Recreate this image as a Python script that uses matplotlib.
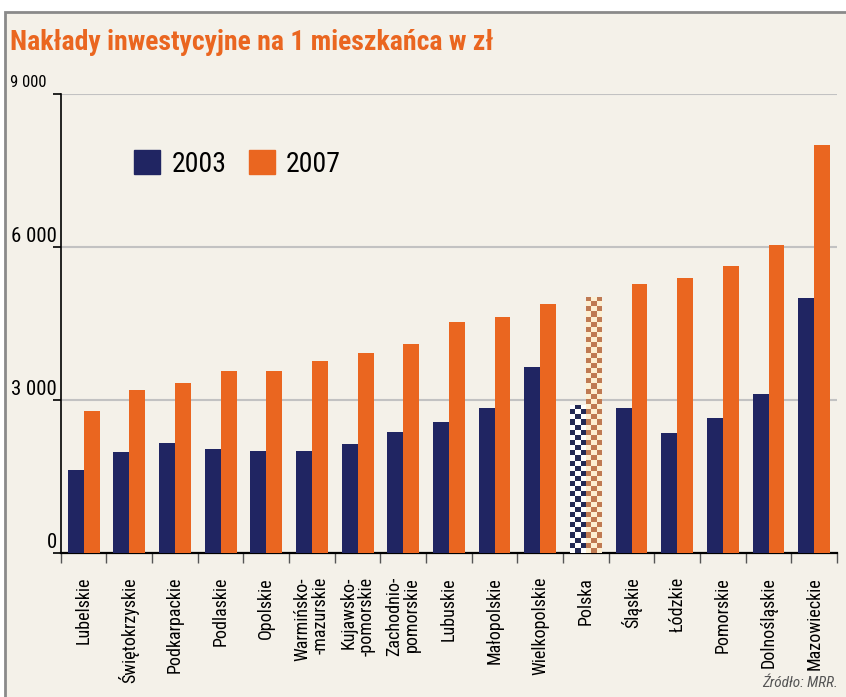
import numpy as np
import matplotlib
matplotlib.use('Agg')
import matplotlib.pyplot as plt
from matplotlib import font_manager
from matplotlib.colors import ListedColormap
from matplotlib.patches import Rectangle, Patch

# --- dane ---
regions = ['Lubelskie', 'Świętokrzyskie', 'Podkarpackie', 'Podlaskie', 'Opolskie',
           'Warmińsko-\n-mazurskie', 'Kujawsko-\n-pomorskie', 'Zachodnio-\npomorskie',
           'Lubuskie', 'Małopolskie', 'Wielkopolskie', 'Polska', 'Śląskie', 'Łódzkie',
           'Pomorskie', 'Dolnośląskie', 'Mazowieckie']
v2003 = [1630, 1985, 2160, 2045, 2005, 2005, 2140, 2380, 2575, 2850, 3655,
         2910, 2850, 2360, 2655, 3125, 5005]
v2007 = [2790, 3200, 3340, 3575, 3575, 3770, 3925, 4105, 4535, 4635, 4890,
         5025, 5280, 5400, 5635, 6045, 8005]
years = ['2003', '2007']
yticks = [0, 3000, 6000, 9000]
ytick_labels = ['0', '3 000', '6 000', '9 000']
highlight = 'Polska'

COLORS = {
    'bg': '#F4F1E9',
    'navy': '#202562',
    'orange': '#EA6620',
    'grid': '#C2C2C2',
    'border': '#8A8A8A',
    'chk_navy': ['#FFFFFF', '#232A55'],
    'chk_orange': ['#FDEFD2', '#BF7A53'],
}

# szukamy waskiej czcionki
names = {f.name for f in font_manager.fontManager.ttflist}
FONT = next((n for n in ['Roboto Condensed', 'Liberation Sans Narrow', 'Open Sans Condensed',
                         'Noto Sans Condensed', 'DejaVu Sans Condensed'] if n in names), 'DejaVu Sans')
plt.rcParams['font.family'] = [FONT, 'DejaVu Sans']
plt.rcParams['font.stretch'] = 'condensed'

W, H = 846, 697
fig = plt.figure(figsize=(W / 100, H / 100), dpi=100)
fig.patch.set_facecolor('white')
fig.patches.append(Rectangle((5 / W, -0.02), 1.02, 1 - 12 / H + 0.02, transform=fig.transFigure,
                             facecolor=COLORS['bg'], edgecolor=COLORS['border'], linewidth=2, zorder=-5))

left, right, bottom, top = 60.7 / W, 837 / W, 1 - 553.3 / H, 1 - 94.3 / H
ax = fig.add_axes([left, bottom, right - left, top - bottom])
ax.set_facecolor('none')

x = np.arange(len(regions))
bw = 0.35
b1 = ax.bar(x - bw / 2, v2003, width=bw, color=COLORS['navy'], zorder=3)
b2 = ax.bar(x + bw / 2, v2007, width=bw, color=COLORS['orange'], zorder=3)

# Polska - szachownica
hi = regions.index(highlight)
for bar, cols in [(b1[hi], COLORS['chk_navy']), (b2[hi], COLORS['chk_orange'])]:
    bar.set_facecolor('none')
    x0, w, h = bar.get_x(), bar.get_width(), bar.get_height()
    ny = int(round(h / 100))
    nx = 3
    grid = (np.add.outer(np.arange(ny), np.arange(nx)) % 2)
    im = ax.imshow(grid, extent=(x0, x0 + w, 0, h), cmap=ListedColormap(cols),
                   aspect='auto', interpolation='nearest', zorder=3, origin='lower')
    im.set_clip_path(bar)

ax.set_xlim(-0.5, len(regions) - 0.5)
ax.set_ylim(0, 9000)

for s in ['top', 'right']:
    ax.spines[s].set_visible(False)
ax.spines['left'].set_linewidth(1.2)
ax.spines['bottom'].set_linewidth(1.6)

ax.set_yticks(yticks)
ax.set_yticklabels([])
ax.tick_params(axis='y', length=6, width=1.2, direction='out')
ax.yaxis.grid(True, color=COLORS['grid'], linewidth=1.5, zorder=0)
ax.set_axisbelow(True)
for v, lab in zip(yticks, ytick_labels):
    if v == 9000:
        fig.text(10 / W, 1 - 90 / H, lab, ha='left', va='bottom', fontsize=12)
    else:
        ax.annotate(lab, xy=(0, v), xycoords=('axes fraction', 'data'), xytext=(-4, 1),
                    textcoords='offset pixels', ha='right', va='bottom', fontsize=15)

ax.set_xticks(x)
ax.set_xticklabels(regions, rotation=90, va='top', ha='center', multialignment='right',
                   fontsize=13, linespacing=1.0)
ax.tick_params(axis='x', which='major', length=0, pad=17)
ax.set_xticks(np.arange(-0.5, len(regions), 1), minor=True)
ax.tick_params(axis='x', which='minor', length=7, width=1, color='#555555', direction='out')

handles = [Patch(color=COLORS['navy']), Patch(color=COLORS['orange'])]
fig.legend(handles, years, loc='upper left', bbox_to_anchor=(134 / W, 1 - 150 / H),
           bbox_transform=fig.transFigure, ncol=2, frameon=False, fontsize=20,
           handlelength=0.95, handleheight=0.95, handletextpad=0.4, columnspacing=0.8,
           borderpad=0, borderaxespad=0)

fig.text(10 / W, 1 - 43 / H, 'Nakłady inwestycyjne na 1 mieszkańca w zł', ha='left', va='center',
         fontsize=20, fontweight='bold', color=COLORS['orange'])
fig.text(838 / W, 1 - 683 / H, 'Źródło: MRR.', ha='right', va='center', style='italic',
         color='#555555', fontsize=11)

fig.savefig('out.png', dpi=100, facecolor='white')
